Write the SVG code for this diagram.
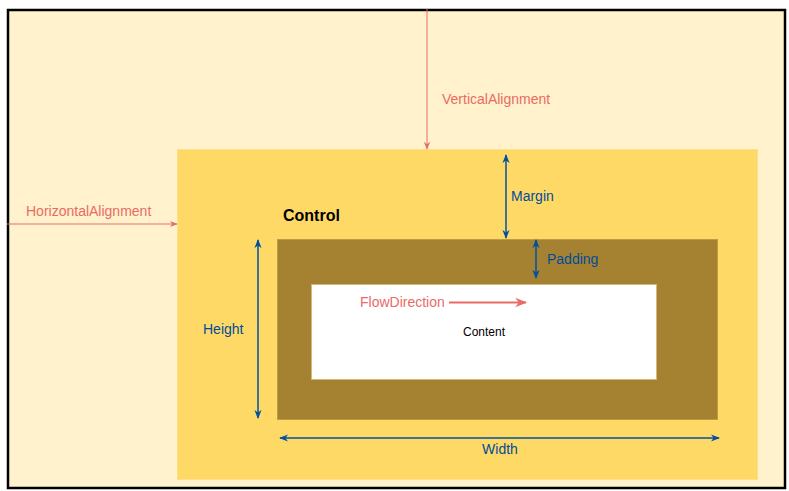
<svg xmlns="http://www.w3.org/2000/svg" width="789" height="491" viewBox="0 0 789 491">
<style>
text{font-family:"Liberation Sans",Arial,sans-serif;font-size:14px}
.red{fill:#EA6B66}
.blue{fill:#004C99}
.rl{stroke:#EA6B66;stroke-width:1;fill:none}
.bl{stroke:#0050A0;stroke-width:1.5;fill:none}
</style>
<defs>
<marker id="ar" viewBox="0 0 10 10" refX="9" refY="5" markerWidth="8" markerHeight="8" markerUnits="userSpaceOnUse" orient="auto-start-reverse"><path d="M0,1 L10,5 L0,9 L3,5 Z" fill="#EA6B66"/></marker>
<marker id="ab" viewBox="0 0 10 10" refX="9" refY="5" markerWidth="9" markerHeight="9" markerUnits="userSpaceOnUse" orient="auto-start-reverse"><path d="M0,1 L10,5 L0,9 L3,5 Z" fill="#0050A0"/></marker>
<marker id="arf" viewBox="0 0 10 10" refX="9" refY="5" markerWidth="12" markerHeight="12" markerUnits="userSpaceOnUse" orient="auto"><path d="M0,1 L10,5 L0,9 L3,5 Z" fill="#EA6B66"/></marker>
</defs>
<g id="background">
<rect x="8" y="10" width="777" height="478" fill="#FFF2CC" stroke="#000" stroke-width="2.5"/>
</g>
<g id="control">
<rect x="177.5" y="149.5" width="580" height="330" fill="#FFD966" stroke="#FFE08A" stroke-width="1"/>
<text x="283" y="221" font-weight="bold" style="font-size:16px">Control</text>
</g>
<g id="padding">
<rect x="277.5" y="239.5" width="440" height="180" fill="#A58232" stroke="#BE9A45" stroke-width="1"/>
</g>
<g id="content">
<rect x="311.5" y="284.5" width="345" height="95" fill="#FFFFFF" stroke="#D6B97A" stroke-width="1"/>
<text x="484" y="336" text-anchor="middle" style="font-size:12px">Content</text>
</g>
<g id="connectors">
<line class="rl" x1="427" y1="9" x2="427" y2="149" marker-end="url(#ar)"/>
<line class="rl" x1="7" y1="224" x2="177" y2="224" marker-end="url(#ar)"/>
<line class="bl" x1="506" y1="155" x2="506" y2="238" marker-start="url(#ab)" marker-end="url(#ab)"/>
<line class="bl" x1="536" y1="240" x2="536" y2="278" marker-start="url(#ab)" marker-end="url(#ab)"/>
<line class="bl" x1="258" y1="240" x2="258" y2="418" marker-start="url(#ab)" marker-end="url(#ab)"/>
<line class="bl" x1="280" y1="438" x2="719" y2="438" marker-start="url(#ab)" marker-end="url(#ab)"/>
<line x1="449" y1="302.5" x2="526" y2="302.5" stroke="#EA6B66" stroke-width="2" marker-end="url(#arf)"/>
</g>
<g id="labels">
<text class="red" x="442" y="104">VerticalAlignment</text>
<text class="red" x="26" y="216">HorizontalAlignment</text>
<text class="red" x="360" y="307">FlowDirection</text>
<text class="blue" x="511" y="201">Margin</text>
<text class="blue" x="547" y="264">Padding</text>
<text class="blue" x="203" y="334">Height</text>
<text class="blue" x="500" y="454" text-anchor="middle">Width</text>
</g>
</svg>
